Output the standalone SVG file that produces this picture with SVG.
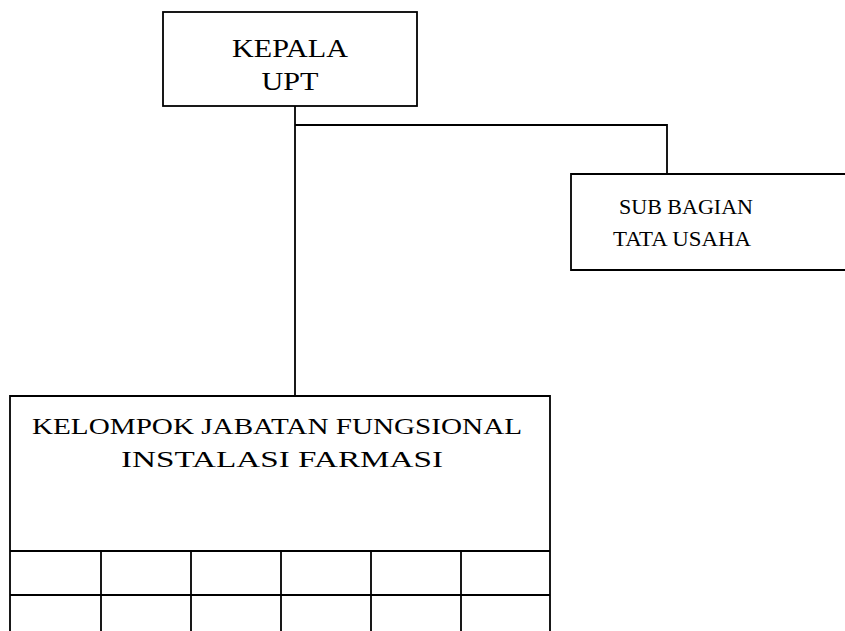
<svg xmlns="http://www.w3.org/2000/svg" width="845" height="631" viewBox="0 0 845 631">
<style>
.box{fill:#fff;stroke:#000;stroke-width:1.8}
.ln{fill:none;stroke:#000;stroke-width:1.8}
.t{font-family:"Liberation Serif","Times New Roman",serif;fill:#000;text-anchor:middle}
</style>
<rect width="845" height="631" fill="#fff"/>
<g id="connectors">
<path class="ln" d="M295 106 V396"/>
<path class="ln" d="M295 125 H667 V174"/>
</g>
<g id="kepala">
<rect class="box" x="163" y="12" width="254" height="94"/>
<text class="t" x="290" y="57" font-size="26" textLength="116" lengthAdjust="spacingAndGlyphs">KEPALA</text>
<text class="t" x="290" y="90" font-size="26" textLength="57" lengthAdjust="spacingAndGlyphs">UPT</text>
</g>
<g id="subbagian">
<path class="box" d="M846 174 H571 V270 H846"/>
<text class="t" x="686" y="214" font-size="21" textLength="134" lengthAdjust="spacingAndGlyphs">SUB BAGIAN</text>
<text class="t" x="682" y="246" font-size="21" textLength="138" lengthAdjust="spacingAndGlyphs">TATA USAHA</text>
</g>
<g id="kelompok">
<path class="box" d="M10 640 V396 H550 V640"/>
<text class="t" x="277" y="434" font-size="23" textLength="490" lengthAdjust="spacingAndGlyphs">KELOMPOK JABATAN FUNGSIONAL</text>
<text class="t" x="282" y="467" font-size="23" textLength="322" lengthAdjust="spacingAndGlyphs">INSTALASI FARMASI</text>
<path class="ln" d="M10 551 H550 M10 595 H550 M101 551 V640 M191 551 V640 M281 551 V640 M371 551 V640 M461 551 V640"/>
</g>
</svg>
